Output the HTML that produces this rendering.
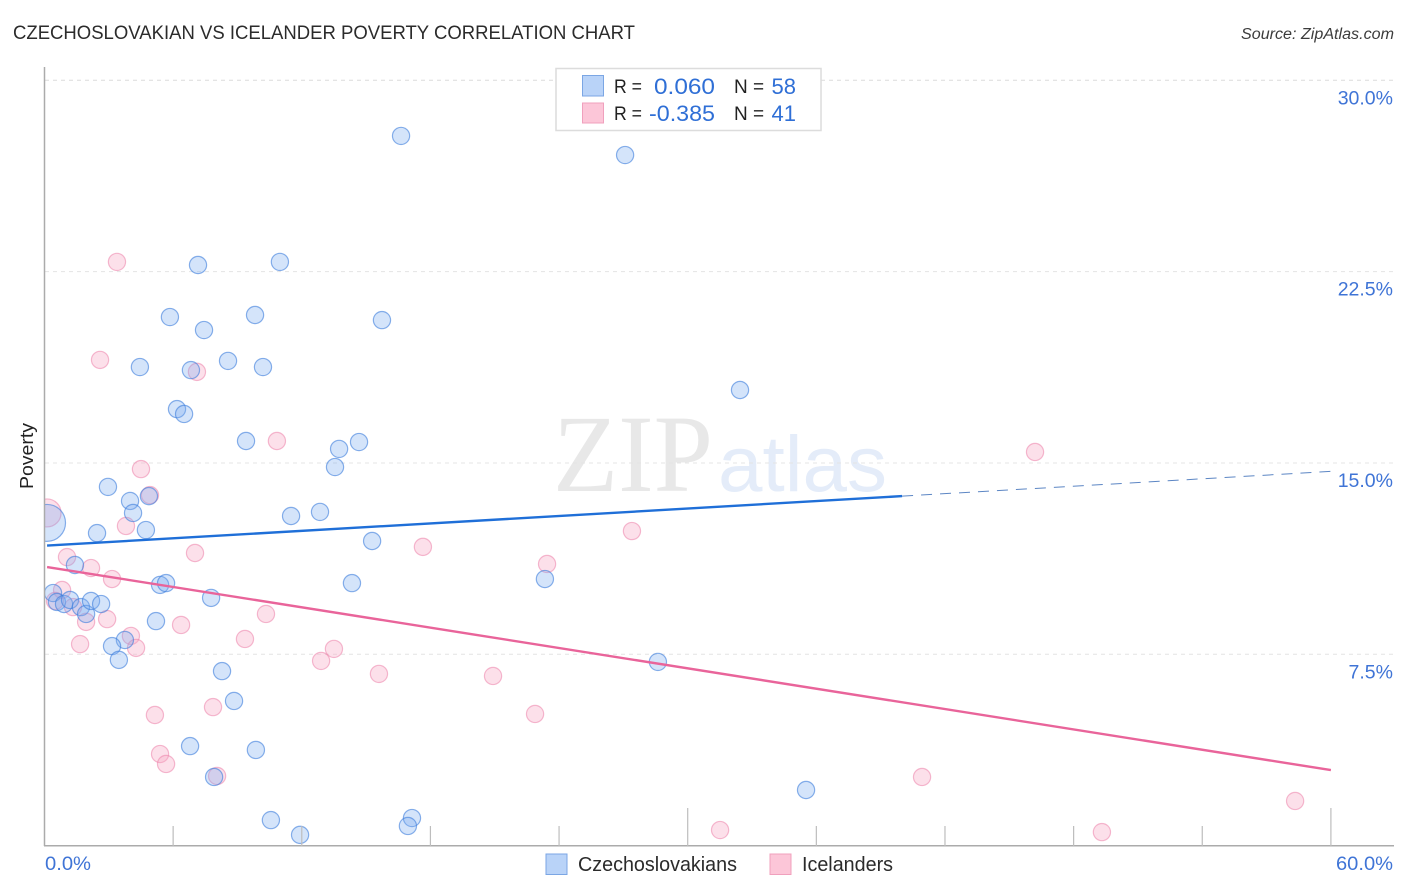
<!DOCTYPE html>
<html lang="en">
<head>
<meta charset="utf-8">
<title>Czechoslovakian vs Icelander Poverty Correlation Chart</title>
<style>
html,body{margin:0;padding:0;background:#fff;}
svg{display:block;font-family:"Liberation Sans",sans-serif;}
</style>
</head>
<body>
<svg id="chart" width="1406" height="892" viewBox="0 0 1406 892" xmlns="http://www.w3.org/2000/svg">
  <defs>
    <clipPath id="plot-clip"><rect x="45" y="60" width="1349" height="786"/></clipPath>
  </defs>
  <rect x="0" y="0" width="1406" height="892" fill="#ffffff"/>
  <text x="13" y="39" font-size="19" fill="#2b2b2b" textLength="622" lengthAdjust="spacingAndGlyphs">CZECHOSLOVAKIAN VS ICELANDER POVERTY CORRELATION CHART</text>
  <text x="1241" y="39" font-size="15.5" font-style="italic" fill="#3c3c3c" textLength="153" lengthAdjust="spacingAndGlyphs">Source: ZipAtlas.com</text>

  <g>
    <text x="553" y="491" font-family="'Liberation Serif',serif" font-size="110" fill="#e8e8e8" textLength="160" lengthAdjust="spacingAndGlyphs">ZIP</text>
    <text x="718" y="491" font-size="79" fill="#e4ecf9" textLength="169" lengthAdjust="spacingAndGlyphs">atlas</text>
  </g>

  <g id="grid"></g>
  <g id="points" clip-path="url(#plot-clip)"></g>
  <g id="trends"></g>
  <g id="axes"></g>

  <text transform="translate(33,456) rotate(-90)" font-size="18" fill="#222" text-anchor="middle" textLength="66" lengthAdjust="spacingAndGlyphs">Poverty</text>

  <g>
    <rect x="556" y="68.5" width="265" height="62" fill="#ffffff" stroke="#dcdcdc" stroke-width="1.5"/>
    <rect x="582.5" y="75.5" width="21" height="20.5" fill="#b9d3f8" stroke="#7ba6e4" stroke-width="1"/>
    <rect x="582.5" y="103" width="21" height="20" fill="#fcc6d8" stroke="#f0a0bd" stroke-width="1"/>
    <text x="614" y="93" font-size="19" fill="#222" textLength="28" lengthAdjust="spacingAndGlyphs">R =</text>
    <text x="654" y="94" font-size="22" fill="#2f6fd6" textLength="61" lengthAdjust="spacingAndGlyphs">0.060</text>
    <text x="734" y="93" font-size="19" fill="#222">N =</text>
    <text x="796" y="94" font-size="22" fill="#2f6fd6" text-anchor="end">58</text>
    <text x="614" y="120" font-size="19" fill="#222" textLength="28" lengthAdjust="spacingAndGlyphs">R =</text>
    <text x="649" y="121" font-size="22" fill="#2f6fd6" textLength="66" lengthAdjust="spacingAndGlyphs">-0.385</text>
    <text x="734" y="120" font-size="19" fill="#222">N =</text>
    <text x="796" y="121" font-size="22" fill="#2f6fd6" text-anchor="end">41</text>
  </g>

  <g>
    <rect x="546" y="854" width="21" height="20.5" fill="#b9d3f8" stroke="#7ba6e4" stroke-width="1"/>
    <text x="578" y="871" font-size="20" fill="#2b2b2b" textLength="159" lengthAdjust="spacingAndGlyphs">Czechoslovakians</text>
    <rect x="770" y="854" width="21" height="20.5" fill="#fcc6d8" stroke="#f0a0bd" stroke-width="1"/>
    <text x="802" y="871" font-size="20" fill="#2b2b2b" textLength="91" lengthAdjust="spacingAndGlyphs">Icelanders</text>
  </g>
</svg>

<script>
const yTickValues = [7.5, 15, 22.5, 30];
const yTickLabels = ["7.5%", "15.0%", "22.5%", "30.0%"];
const xTickValues = [6, 12, 18, 24, 30, 36, 42, 48, 54, 60];
const xMajorTicks = [30, 60];
const xEndLabels = ["0.0%", "60.0%"];

const czechX = [16.63,27.08,7.16,10.98,5.85,9.82,15.74,7.44,8.56,10.19,4.45,6.83,32.44,6.18,6.51,9.40,14.67,13.74,13.55,2.96,4.87,3.99,4.13,11.50,12.85,4.73,2.45,15.28,1.42,5.39,5.67,14.34,23.34,0.40,0.58,0.91,1.19,1.70,1.94,2.17,2.64,7.77,5.20,3.75,3.15,3.47,8.28,28.61,8.84,6.79,9.86,7.91,35.52,10.56,11.92,17.14,16.95,0.12];
const czechY = [27.82,27.07,22.76,22.88,20.72,20.80,20.60,20.21,19.00,18.76,18.76,18.64,17.86,17.11,16.92,15.86,15.82,15.55,14.84,14.06,13.70,13.51,13.04,12.92,13.08,12.37,12.25,11.94,11.00,10.22,10.29,10.29,10.45,9.90,9.55,9.47,9.63,9.35,9.08,9.59,9.47,9.71,8.80,8.06,7.82,7.28,6.84,7.20,5.67,3.90,3.75,2.69,2.18,1.00,0.42,1.08,0.77,12.65];
const czechWeight = [1,1,1,1,1,1,1,1,1,1,1,1,1,1,1,1,1,1,1,1,1,1,1,1,1,1,1,1,1,1,1,1,1,1,1,1,1,1,1,1,1,1,1,1,1,1,1,1,1,1,1,1,1,1,1,1,1,4.6];

const icelandX = [3.38,2.59,7.11,10.84,4.50,4.92,46.20,3.80,27.40,17.65,23.44,7.02,1.05,2.17,3.15,0.82,0.49,1.33,1.94,2.92,6.37,10.33,4.03,4.27,1.66,9.35,13.50,12.90,15.60,20.92,5.15,7.86,22.88,5.39,5.67,8.05,40.93,58.33,31.51,49.32,0.12];
const icelandY = [22.88,19.04,18.57,15.86,14.76,13.74,15.43,12.53,12.33,11.71,11.04,11.47,11.31,10.88,10.45,10.02,9.59,9.35,8.77,8.88,8.65,9.08,8.22,7.75,7.90,8.10,7.71,7.24,6.73,6.65,5.12,5.43,5.16,3.59,3.20,2.73,2.69,1.75,0.61,0.53,13.04];
const icelandWeight = [1,1,1,1,1,1,1,1,1,1,1,1,1,1,1,1,1,1,1,1,1,1,1,1,1,1,1,1,1,1,1,1,1,1,1,1,1,1,1,1,2.65];

const czechTrendX = [0.12, 40];
const czechTrendY = [11.76, 13.70];
const czechTrendProjectedX = [40, 60];
const czechTrendProjectedY = [13.70, 14.67];
const icelandTrendX = [0.12, 60];
const icelandTrendY = [10.92, 2.96];

const SVG_NS = "http://www.w3.org/2000/svg";
const xScale = function (v) { return 44.5 + v * 21.44; };
const yScale = function (v) { return 845.6 - v * 25.51; };

function make(tag, parent, attrs) {
  const el = document.createElementNS(SVG_NS, tag);
  Object.keys(attrs).forEach(function (k) { el.setAttribute(k, attrs[k]); });
  parent.appendChild(el);
  return el;
}

const gridG = document.getElementById("grid");
const axesG = document.getElementById("axes");
const pointsG = document.getElementById("points");
const trendsG = document.getElementById("trends");

yTickValues.forEach(function (v, i) {
  const g = make("line", gridG, { x1: 45, x2: 1394, y1: yScale(v), y2: yScale(v), stroke: v === 30 ? "#dcdcdc" : "#e4e4e4", "stroke-width": 1, "stroke-dasharray": "4 4" });
  
  
  const t = make("text", axesG, { x: 1393, y: yScale(v) + 24, "font-size": 19.5, fill: "#3f74d6", "text-anchor": "end" });
  
  
  t.textContent = yTickLabels[i];
});

const leftAxis = make("line", axesG, { x1: 44.5, x2: 44.5, y1: 67, y2: 846, stroke: "#ababab", "stroke-width": 1.5 });


const bottomAxis = make("line", axesG, { x1: 44, x2: 1394, y1: 845.8, y2: 845.8, stroke: "#ababab", "stroke-width": 1.5 });



xTickValues.forEach(function (v) {
  const top = xMajorTicks.indexOf(v) >= 0 ? 808 : 826;
  const tick = make("line", axesG, { x1: xScale(v), x2: xScale(v), y1: top, y2: 846, stroke: "#bdbdbd", "stroke-width": 1.2 });
  
  
});

const xLabelLeft = make("text", axesG, { x: 45, y: 870, "font-size": 19.5, fill: "#3f74d6", textLength: 46, lengthAdjust: "spacingAndGlyphs" });


xLabelLeft.textContent = xEndLabels[0];
const xLabelRight = make("text", axesG, { x: 1336, y: 870, "font-size": 19.5, fill: "#3f74d6", textLength: 57, lengthAdjust: "spacingAndGlyphs" });


xLabelRight.textContent = xEndLabels[1];

function radius(weight) { return 8.6 * Math.sqrt(weight); }

icelandX.forEach(function (x, i) {
  const c = make("circle", pointsG, { cx: xScale(x), cy: yScale(icelandY[i]), r: radius(icelandWeight[i]), fill: "rgba(248,170,196,0.36)", stroke: "rgba(236,130,170,0.55)", "stroke-width": 1.2 });
  
  
});
czechX.forEach(function (x, i) {
  const c = make("circle", pointsG, { cx: xScale(x), cy: yScale(czechY[i]), r: radius(czechWeight[i]), fill: "rgba(120,170,240,0.32)", stroke: "rgba(60,125,220,0.6)", "stroke-width": 1.2 });
  
  
});

const czechSolid = make("line", trendsG, { x1: xScale(czechTrendX[0]), y1: yScale(czechTrendY[0]), x2: xScale(czechTrendX[1]), y2: yScale(czechTrendY[1]), stroke: "#1f6fd8", "stroke-width": 2.4 });


const czechDash = make("line", trendsG, { x1: xScale(czechTrendProjectedX[0]), y1: yScale(czechTrendProjectedY[0]), x2: xScale(czechTrendProjectedX[1]), y2: yScale(czechTrendProjectedY[1]), stroke: "#5c86c4", "stroke-width": 1, "stroke-dasharray": "11 8" });


const icelandLine = make("line", trendsG, { x1: xScale(icelandTrendX[0]), y1: yScale(icelandTrendY[0]), x2: xScale(icelandTrendX[1]), y2: yScale(icelandTrendY[1]), stroke: "#e9649a", "stroke-width": 2.4 });


</script>
</body>
</html>
